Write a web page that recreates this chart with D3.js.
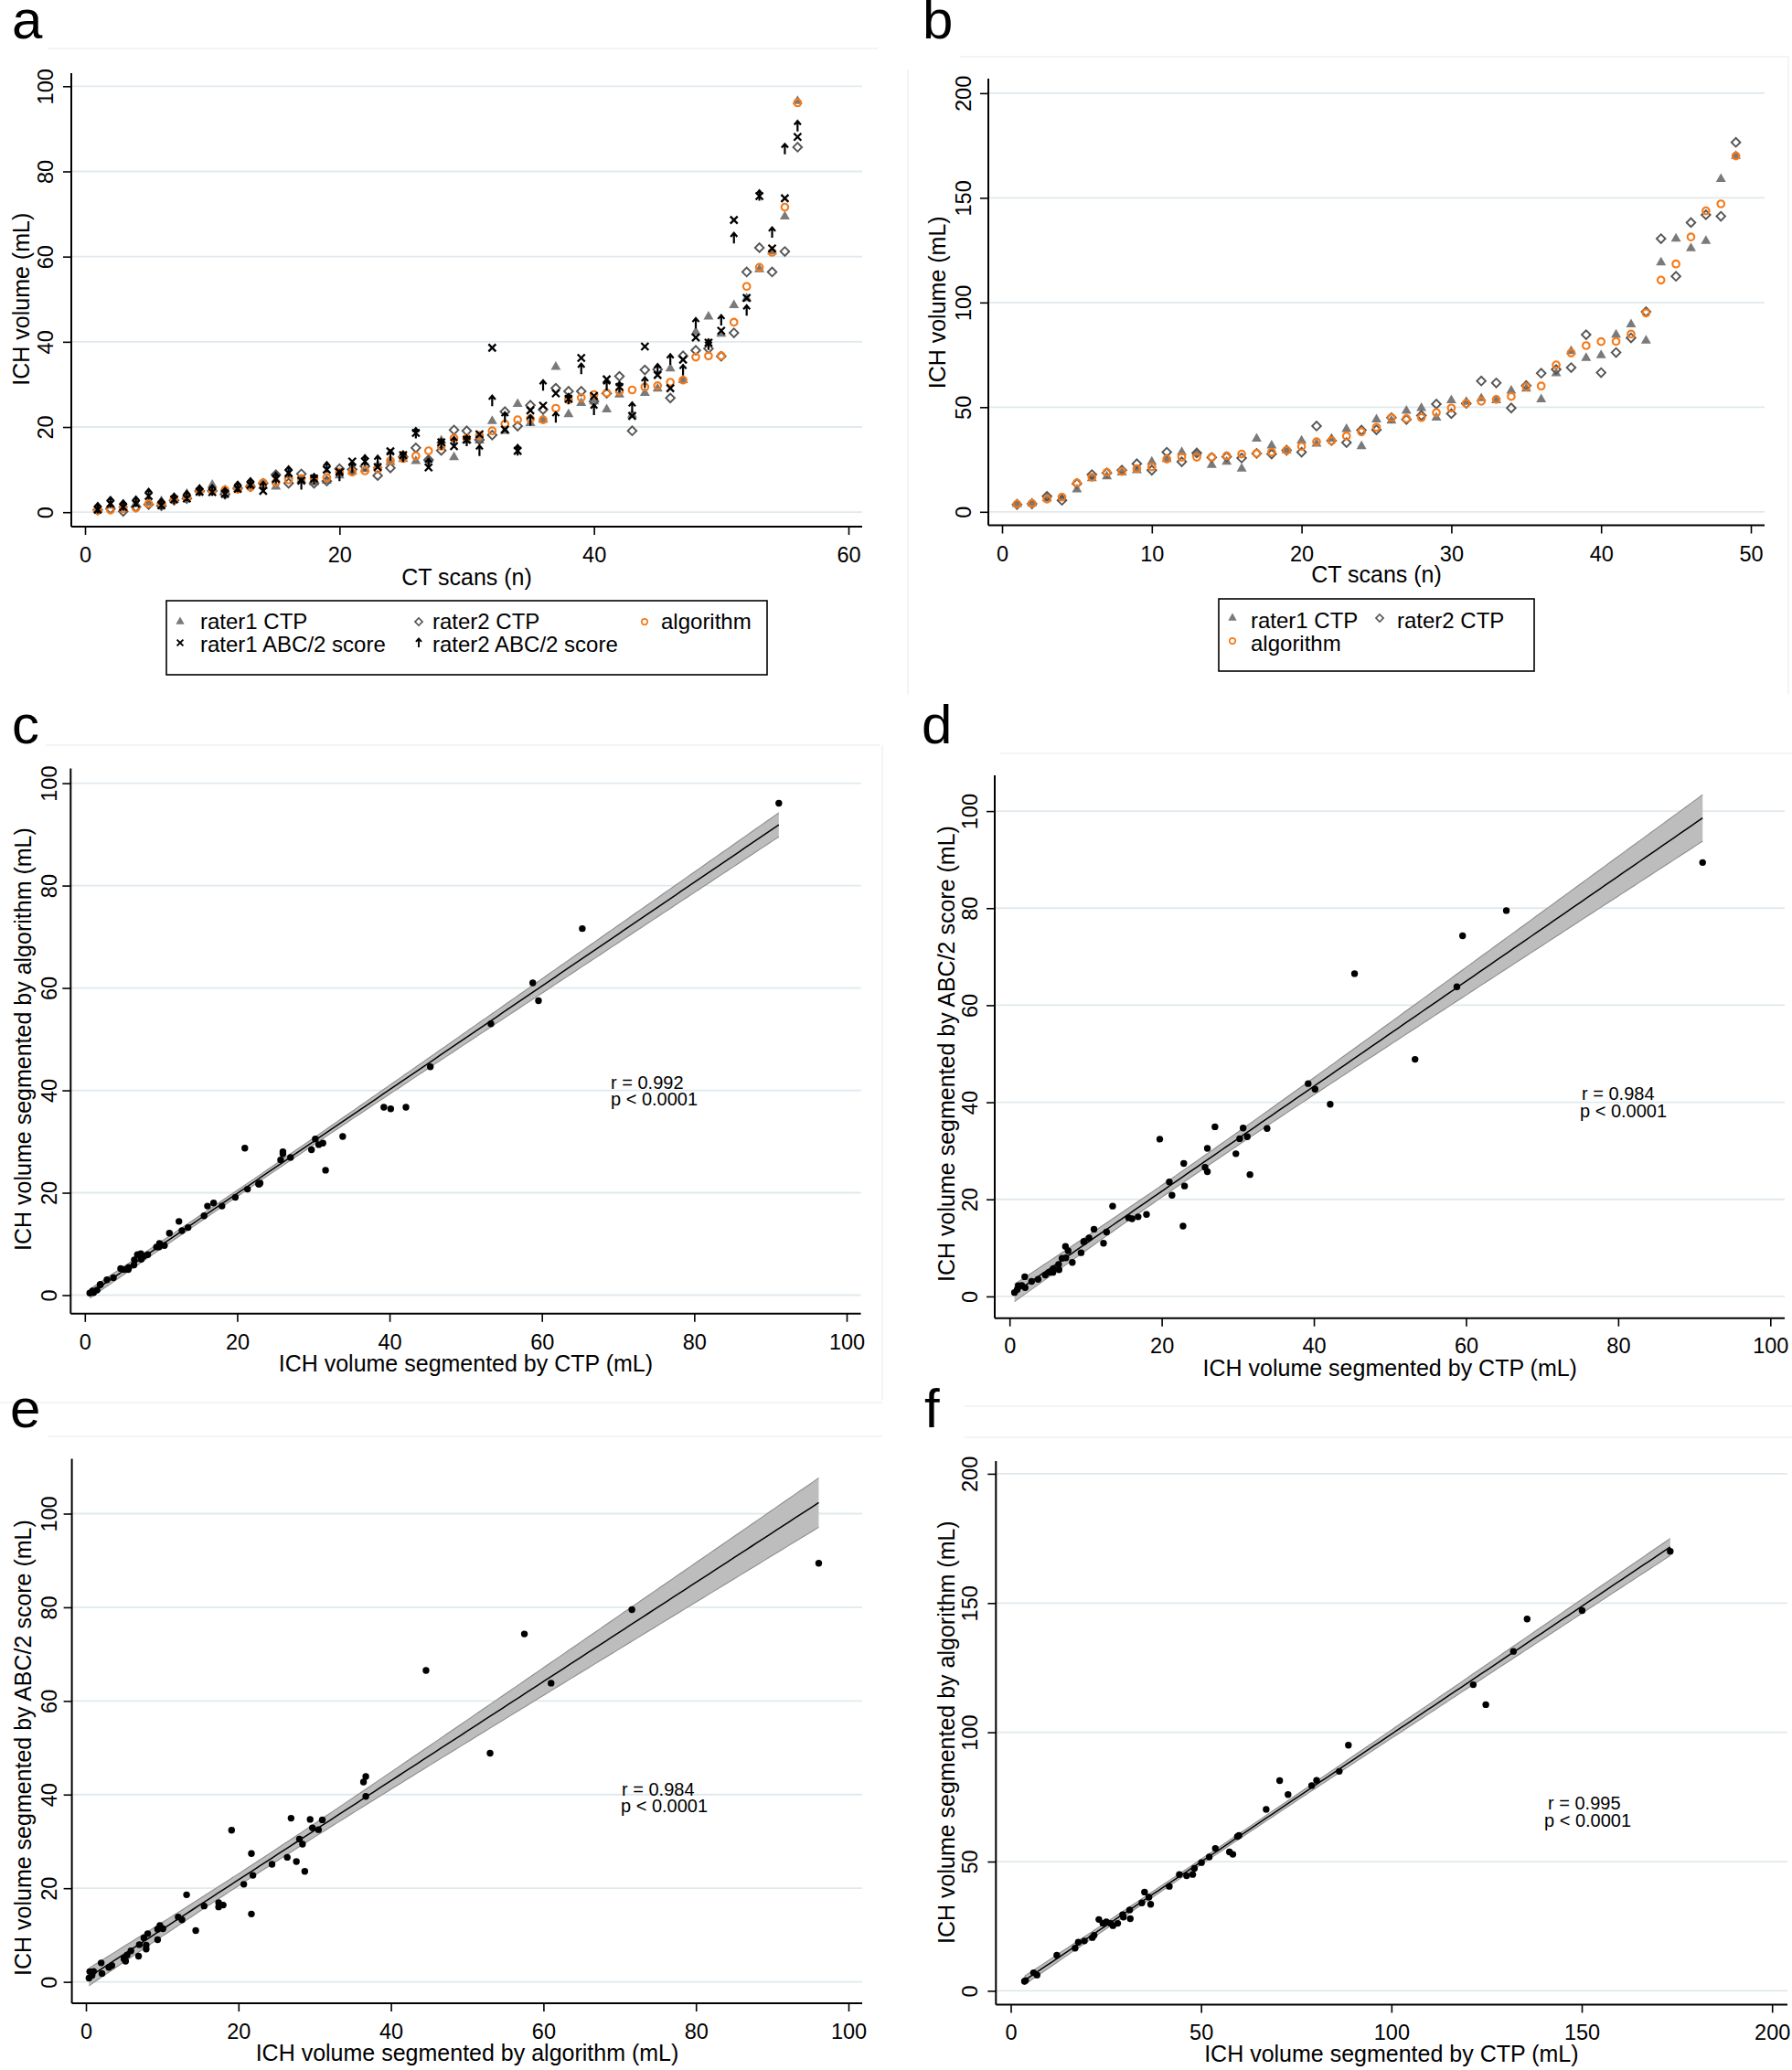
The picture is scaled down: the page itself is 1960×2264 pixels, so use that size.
<!DOCTYPE html>
<html><head><meta charset="utf-8">
<script src="https://cdn.jsdelivr.net/npm/d3@7"></script>
<style>body{margin:0;background:#fff;} svg{display:block;}</style>
</head><body>
<svg id="chart" width="1960" height="2264"></svg>
<script>
// ---------------- DATA ----------------
// Panel a: 56 CT scans
const scansA = d3.range(1, 57);
const aRater1CTP = [0.8,1.5,1.8,2.0,2.2,2.6,3.0,4.3,5.3,6.4,5.2,5.9,6.9,6.2,6.0,8.6,7.5,7.0,7.4,8.6,9.5,10.1,11.0,11.8,12.5,12.0,12.4,16.8,12.9,16.9,16.8,21.4,19.1,25.4,20.9,21.7,34.1,23.0,25.6,26.0,24.1,27.6,22.9,28.0,29.0,33.7,31.0,42.3,45.9,41.9,48.6,50.2,57.0,61.2,69.4,96.5];
const aRater2CTP = [0.5,0.8,0.2,1.2,1.8,1.5,2.8,3.2,5.0,5.0,4.2,5.6,6.0,6.8,8.8,6.8,9.0,6.8,7.3,10.2,10.0,10.8,8.6,10.4,13.0,15.1,12.3,14.5,19.3,19.1,17.0,18.1,23.6,20.2,25.1,24.1,29.1,28.4,28.4,26.0,27.9,31.9,19.1,33.4,33.5,26.8,36.7,38.0,38.4,36.6,42.1,56.4,62.1,56.4,61.2,85.7];
const aAlgorithm = [0.4,0.5,0.8,1.0,2.0,2.1,3.0,3.4,5.0,5.0,5.2,5.4,5.9,6.9,7.0,7.6,7.9,7.9,8.1,9.4,9.4,9.7,10.1,12.1,12.6,13.2,14.4,15.5,17.4,17.4,18.0,19.1,20.7,21.7,21.9,21.7,24.4,26.4,26.9,27.6,28.0,28.4,28.7,29.4,29.7,30.5,31.0,36.4,36.7,36.7,44.6,53.0,57.5,61.0,71.6,96.1];
const aRater1ABC = [0.6,2.0,1.2,2.0,3.8,1.6,3.0,3.2,4.8,4.7,4.3,5.5,6.4,5.0,7.8,9.2,7.4,7.9,10.0,9.4,11.9,11.9,10.6,14.3,13.4,18.6,10.5,16.4,15.5,17.0,18.3,38.6,19.4,14.4,23.9,25.0,27.9,26.6,36.2,27.3,31.2,29.4,22.6,38.9,32.2,29.1,35.8,41.0,39.8,42.6,68.6,50.3,74.2,61.9,73.7,88.1];
const aRater2ABC = [1.0,2.4,1.6,2.5,4.3,2.0,3.2,3.8,5.1,5.2,4.5,6.0,6.8,6.0,8.1,9.6,6.6,7.8,10.6,8.6,10.6,12.2,12.1,13.4,13.1,18.6,11.4,16.0,16.5,16.8,14.5,26.2,22.3,14.6,21.6,29.8,22.3,26.6,33.7,24.1,29.8,29.4,24.6,30.5,33.6,35.9,33.4,44.4,39.4,45.1,64.4,47.4,74.4,65.7,85.3,90.7];

// Panel b: 49 CT scans
const scansB = d3.range(1, 50);
const bRater1CTP = [3.7,4.0,6.4,6.5,10.7,16.0,16.9,18.8,19.9,23.9,25.2,28.5,28.1,22.4,23.9,20.6,34.9,31.6,29.4,34.0,32.5,34.9,39.5,31.3,44.1,43.6,48.3,49.6,45.0,53.3,52.5,54.2,53.3,57.9,58.8,53.7,66.2,76.8,73.5,74.8,84.6,89.5,81.8,119.1,130.5,125.9,129.4,159.0,170.0];
const bRater2CTP = [3.5,3.8,7.4,5.5,13.5,17.8,18.6,19.9,23.0,19.9,28.5,23.9,28.1,26.0,26.3,25.7,27.9,27.6,29.4,28.5,41.0,34.0,33.1,39.0,39.2,45.0,44.1,46.0,51.5,46.9,51.8,62.5,61.6,49.6,60.3,66.2,68.0,68.9,84.6,66.5,76.1,83.1,95.6,130.5,112.5,138.2,141.9,141.2,176.5];
const bAlgorithm = [3.7,4.0,6.1,7.0,13.8,16.5,18.8,19.3,20.6,21.5,25.2,26.1,26.1,26.1,26.7,27.6,27.9,28.5,29.4,31.3,33.5,34.0,36.2,38.2,40.4,45.0,44.5,45.0,47.4,49.6,51.8,52.8,53.7,55.1,59.7,60.1,70.2,75.9,79.4,81.3,81.4,84.9,95.0,110.7,118.4,131.3,143.8,147.1,170.0];

// Tick values
const ticksAx = [0, 20, 40, 60];
const ticksAy = [0, 20, 40, 60, 80, 100];
const ticksBx = [0, 10, 20, 30, 40, 50];
const ticksBy = [0, 50, 100, 150, 200];
const ticks100 = [0, 20, 40, 60, 80, 100];
const ticks200 = [0, 50, 100, 150, 200];

// Texts
const panelLetters = ['a', 'b', 'c', 'd', 'e', 'f'];
const legendALabels = ['rater1 CTP', 'rater2 CTP', 'algorithm', 'rater1 ABC/2 score', 'rater2 ABC/2 score'];
const legendBLabels = ['rater1 CTP', 'rater2 CTP', 'algorithm'];
const annotC = ['r = 0.992', 'p < 0.0001'];
const annotD = ['r = 0.984', 'p < 0.0001'];
const annotE = ['r = 0.984', 'p < 0.0001'];
const annotF = ['r = 0.995', 'p < 0.0001'];

// Derived scatter pairs (mean of the two raters)
const meanCTP_A = aRater1CTP.map((v, i) => (v + aRater2CTP[i]) / 2);
const meanABC_A = aRater1ABC.map((v, i) => (v + aRater2ABC[i]) / 2);
const meanCTP_B = bRater1CTP.map((v, i) => (v + bRater2CTP[i]) / 2);

// ---------------- STYLE / LAYOUT ----------------
const FONT = '"Liberation Sans", Arial, Helvetica, sans-serif';
const GRID = '#e0e9ee';
const ORANGE = '#f47a1a';
const TRI = '#7a7a7a';
const DIA = '#555555';
const svg = d3.select('#chart');

function frame(p) {
  const g = svg.append('g');
  const x = d3.scaleLinear().domain(p.xDomain).range(p.xRange);
  const y = d3.scaleLinear().domain(p.yDomain).range(p.yRange);
  g.selectAll('line.grid').data(p.yTicks).join('line').attr('class', 'grid')
    .attr('x1', p.axisLeft).attr('x2', p.axisRight)
    .attr('y1', d => y(d)).attr('y2', d => y(d))
    .attr('stroke', GRID).attr('stroke-width', 1.8);
  const ya = g.append('g').attr('transform', `translate(${p.axisLeft},0)`)
    .call(d3.axisLeft(y).tickValues(p.yTicks).tickSize(9).tickSizeOuter(0));
  ya.select('.domain').remove();
  ya.selectAll('line').attr('stroke', '#000').attr('stroke-width', 1.6);
  ya.selectAll('text').attr('x', null).attr('dy', null).attr('text-anchor', 'middle')
    .attr('transform', `translate(${p.yTickLabelX - p.axisLeft},0) rotate(-90)`)
    .attr('font-size', 23.5).attr('font-family', FONT).attr('fill', '#000');
  const xa = g.append('g').attr('transform', `translate(0,${p.axisBottom})`)
    .call(d3.axisBottom(x).tickValues(p.xTicks).tickSize(9).tickSizeOuter(0));
  xa.select('.domain').remove();
  xa.selectAll('line').attr('stroke', '#000').attr('stroke-width', 1.6);
  xa.selectAll('text').attr('y', p.xTickBaseline - p.axisBottom).attr('dy', null)
    .attr('font-size', 23.5).attr('font-family', FONT).attr('fill', '#000');
  g.append('line').attr('x1', p.axisLeft).attr('x2', p.axisLeft).attr('y1', p.axisTop).attr('y2', p.axisBottom)
    .attr('stroke', '#000').attr('stroke-width', 2);
  g.append('line').attr('x1', p.axisLeft).attr('x2', p.axisRight).attr('y1', p.axisBottom).attr('y2', p.axisBottom)
    .attr('stroke', '#000').attr('stroke-width', 2);
  const xMid = (x(p.xTicks[0]) + x(p.xTicks[p.xTicks.length - 1])) / 2;
  const yMid = (y(p.yTicks[0]) + y(p.yTicks[p.yTicks.length - 1])) / 2;
  g.append('text').attr('x', xMid).attr('y', p.xTitleBaseline).attr('text-anchor', 'middle')
    .attr('font-size', 25).attr('font-family', FONT).text(p.xTitle);
  g.append('text').attr('transform', `translate(${p.yTitleX},${yMid}) rotate(-90)`).attr('text-anchor', 'middle')
    .attr('font-size', 25).attr('font-family', FONT).text(p.yTitle);
  return {g, x, y};
}

function faint(x1, y1, x2, y2) {
  svg.append('line').attr('x1', x1).attr('y1', y1).attr('x2', x2).attr('y2', y2)
    .attr('stroke', '#edf2f5').attr('stroke-width', 1.5);
}

const arrowPath = 'M0,6 L0,-5 M-3.6,-1.2 L0,-5.4 L3.6,-1.2';
const xPath = 'M-4,-4 L4,4 M-4,4 L4,-4';

function markers(g, type, xs, ys, x, y, k) {
  k = k || 1;
  const sel = g.append('g').selectAll('path').data(ys).join('path')
    .attr('transform', (d, i) => `translate(${x(xs[i])},${y(d)})` + (type === 'dia' ? ' rotate(45)' : '') + ` scale(${k})`);
  if (type === 'tri') sel.attr('d', d3.symbol(d3.symbolTriangle, 52)()).attr('fill', TRI);
  if (type === 'dia') sel.attr('d', d3.symbol(d3.symbolSquare, 46)()).attr('fill', 'none').attr('stroke', DIA).attr('stroke-width', 1.9);
  if (type === 'circ') sel.attr('d', d3.symbol(d3.symbolCircle, Math.PI * 3.8 * 3.8)()).attr('fill', 'none').attr('stroke', ORANGE).attr('stroke-width', 2.1);
  if (type === 'x') sel.attr('d', xPath).attr('fill', 'none').attr('stroke', '#000').attr('stroke-width', 2.3);
  if (type === 'arrow') sel.attr('d', arrowPath).attr('fill', 'none').attr('stroke', '#000').attr('stroke-width', 2.2).attr('stroke-linejoin', 'miter');
}

function legendMarker(g, type, cx, cy) {
  const id = d3.scaleLinear();
  markers(g, type, [cx], [cy], id, id, 0.85);
}

function letter(t, x, y) {
  svg.append('text').attr('x', x).attr('y', y).attr('font-size', 60).attr('font-family', FONT).text(t);
}

function tq(df) {
  const z = 1.959964;
  return z + (z ** 3 + z) / (4 * df) + (5 * z ** 5 + 16 * z ** 3 + 3 * z) / (96 * df * df);
}

function scatterPanel(p, xs, ys, annot, ann) {
  const {g, x, y} = frame(p);
  const n = xs.length, mx = d3.mean(xs), my = d3.mean(ys);
  let sxx = 0, sxy = 0;
  xs.forEach((v, i) => { sxx += (v - mx) ** 2; sxy += (v - mx) * (ys[i] - my); });
  const b = sxy / sxx, a = my - b * mx;
  let sse = 0;
  xs.forEach((v, i) => { sse += (ys[i] - a - b * v) ** 2; });
  const s = Math.sqrt(sse / (n - 2)), t = tq(n - 2);
  const xmin = d3.min(xs), xmax = d3.max(xs);
  const pts = d3.range(0, 121).map(i => {
    const xv = xmin + (xmax - xmin) * i / 120;
    const yh = a + b * xv;
    const se = s * Math.sqrt(1 / n + (xv - mx) ** 2 / sxx);
    return {x: xv, y: yh, lo: yh - t * se, hi: yh + t * se};
  });
  g.append('path').datum(pts).attr('fill', '#bdbdbd')
    .attr('d', d3.area().x(d => x(d.x)).y0(d => y(d.lo)).y1(d => y(d.hi)));
  ['lo', 'hi'].forEach(k => g.append('path').datum(pts).attr('fill', 'none').attr('stroke', '#8e8e8e').attr('stroke-width', 1.1)
    .attr('d', d3.line().x(d => x(d.x)).y(d => y(d[k]))));
  g.append('path').datum(pts).attr('fill', 'none').attr('stroke', '#000').attr('stroke-width', 1.5)
    .attr('d', d3.line().x(d => x(d.x)).y(d => y(d.y)));
  g.append('g').selectAll('circle').data(ys).join('circle')
    .attr('cx', (d, i) => x(xs[i])).attr('cy', d => y(d)).attr('r', 3.7).attr('fill', '#000');
  annot.forEach((tx, i) => g.append('text').attr('x', ann[i][0]).attr('y', ann[i][1])
    .attr('font-size', 20).attr('font-family', FONT).text(tx));
}

// ---------------- faint region borders ----------------
faint(53, 53, 960, 53);
faint(1050, 62, 1956, 62); faint(993, 76, 993, 760); faint(1956, 62, 1956, 760);
faint(50, 815, 962, 815); faint(965, 815, 965, 1531); faint(0, 1534, 965, 1534);
faint(1094, 824, 1960, 824);
faint(53, 1571, 965, 1571);
faint(1054, 1572, 1960, 1572); faint(1054, 1538, 1960, 1538);

// ---------------- Panel a ----------------
{
  const {g, x, y} = frame({xDomain: [0, 60], xRange: [93, 928], yDomain: [0, 100], yRange: [560.2, 94.3],
    axisLeft: 78, axisRight: 943, axisTop: 80, axisBottom: 576, yTickLabelX: 58, yTitleX: 32,
    xTickBaseline: 614.5, xTitleBaseline: 640, xTicks: ticksAx, yTicks: ticksAy,
    xTitle: 'CT scans (n)', yTitle: 'ICH volume (mL)'});
  markers(g, 'tri', scansA, aRater1CTP, x, y);
  markers(g, 'dia', scansA, aRater2CTP, x, y);
  markers(g, 'circ', scansA, aAlgorithm, x, y);
  markers(g, 'x', scansA, aRater1ABC, x, y);
  markers(g, 'arrow', scansA, aRater2ABC, x, y);
  const lg = svg.append('g');
  lg.append('rect').attr('x', 182).attr('y', 657).attr('width', 657).attr('height', 81)
    .attr('fill', '#fff').attr('stroke', '#000').attr('stroke-width', 1.6);
  const types = ['tri', 'dia', 'circ', 'x', 'arrow'];
  const symX = [197, 458, 705, 197, 458], txtX = [219, 473, 723, 219, 473];
  const symY = [680, 680, 680, 703, 703], txtY = [688, 688, 688, 713, 713];
  legendALabels.forEach((lab, i) => {
    legendMarker(lg, types[i], symX[i], symY[i]);
    lg.append('text').attr('x', txtX[i]).attr('y', txtY[i]).attr('font-size', 24).attr('font-family', FONT).text(lab);
  });
}

// ---------------- Panel b ----------------
{
  const {g, x, y} = frame({xDomain: [0, 50], xRange: [1096, 1915], yDomain: [0, 200], yRange: [559.8, 101.9],
    axisLeft: 1081, axisRight: 1930, axisTop: 86, axisBottom: 574.5, yTickLabelX: 1062, yTitleX: 1034,
    xTickBaseline: 613.7, xTitleBaseline: 637, xTicks: ticksBx, yTicks: ticksBy,
    xTitle: 'CT scans (n)', yTitle: 'ICH volume (mL)'});
  markers(g, 'tri', scansB, bRater1CTP, x, y);
  markers(g, 'dia', scansB, bRater2CTP, x, y);
  markers(g, 'circ', scansB, bAlgorithm, x, y);
  const lg = svg.append('g');
  lg.append('rect').attr('x', 1333).attr('y', 655).attr('width', 345).attr('height', 79)
    .attr('fill', '#fff').attr('stroke', '#000').attr('stroke-width', 1.6);
  const types = ['tri', 'dia', 'circ'];
  const symX = [1348, 1509, 1348], txtX = [1368, 1528, 1368];
  const symY = [676, 676, 701], txtY = [687, 687, 712];
  legendBLabels.forEach((lab, i) => {
    legendMarker(lg, types[i], symX[i], symY[i]);
    lg.append('text').attr('x', txtX[i]).attr('y', txtY[i]).attr('font-size', 24).attr('font-family', FONT).text(lab);
  });
}

// ---------------- Panel c ----------------
scatterPanel({xDomain: [0, 100], xRange: [92.8, 926], yDomain: [0, 100], yRange: [1416.5, 856.6],
  axisLeft: 77.3, axisRight: 941.6, axisTop: 840.6, axisBottom: 1436.8, yTickLabelX: 62, yTitleX: 34,
  xTickBaseline: 1475.6, xTitleBaseline: 1500, xTicks: ticks100, yTicks: ticks100,
  xTitle: 'ICH volume segmented by CTP (mL)', yTitle: 'ICH volume segmented by algorithm (mL)'},
  meanCTP_A, aAlgorithm, annotC, [[668, 1191], [668, 1209]]);

// ---------------- Panel d ----------------
scatterPanel({xDomain: [0, 100], xRange: [1104.2, 1936.3], yDomain: [0, 100], yRange: [1417.9, 887.1],
  axisLeft: 1088, axisRight: 1952, axisTop: 848, axisBottom: 1441.7, yTickLabelX: 1069, yTitleX: 1044.4,
  xTickBaseline: 1480.4, xTitleBaseline: 1505, xTicks: ticks100, yTicks: ticks100,
  xTitle: 'ICH volume segmented by CTP (mL)', yTitle: 'ICH volume segmented by ABC/2 score (mL)'},
  meanCTP_A, meanABC_A, annotD, [[1730, 1203], [1728, 1222]]);

// ---------------- Panel e ----------------
scatterPanel({xDomain: [0, 100], xRange: [94, 928], yDomain: [0, 100], yRange: [2167.6, 1655.5],
  axisLeft: 78.6, axisRight: 943, axisTop: 1595.5, axisBottom: 2191, yTickLabelX: 62, yTitleX: 34,
  xTickBaseline: 2230, xTitleBaseline: 2254, xTicks: ticks100, yTicks: ticks100,
  xTitle: 'ICH volume segmented by algorithm (mL)', yTitle: 'ICH volume segmented by ABC/2 score (mL)'},
  aAlgorithm, meanABC_A, annotE, [[680, 1964], [679, 1982]]);

// ---------------- Panel f ----------------
scatterPanel({xDomain: [0, 200], xRange: [1105.5, 1938.2], yDomain: [0, 200], yRange: [2177.4, 1611.9],
  axisLeft: 1089.3, axisRight: 1955, axisTop: 1598, axisBottom: 2192.4, yTickLabelX: 1069, yTitleX: 1044,
  xTickBaseline: 2231, xTitleBaseline: 2255, xTicks: ticks200, yTicks: ticks200,
  xTitle: 'ICH volume segmented by CTP (mL)', yTitle: 'ICH volume segmented by algorithm (mL)'},
  meanCTP_B, bAlgorithm, annotF, [[1693, 1979], [1689, 1998]]);

// ---------------- panel letters ----------------
const letterPos = [[13, 42], [1009, 42], [13, 813], [1008, 813], [11, 1561], [1011, 1561]];
panelLetters.forEach((t, i) => letter(t, letterPos[i][0], letterPos[i][1]));
</script>
</body></html>
